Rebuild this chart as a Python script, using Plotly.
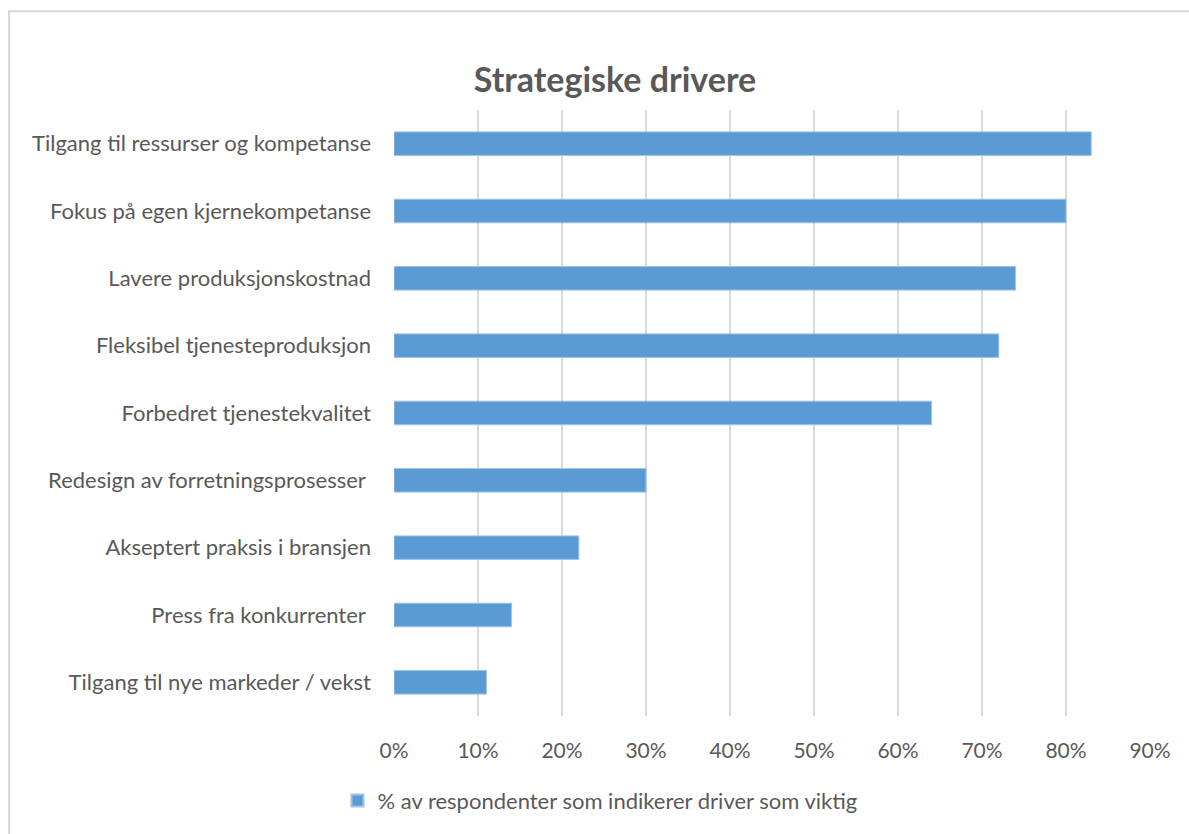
import plotly.graph_objects as go

# Strategic drivers, listed top to bottom
categories = [
    "Tilgang til ressurser og kompetanse",
    "Fokus på egen kjernekompetanse",
    "Lavere produksjonskostnad",
    "Fleksibel tjenesteproduksjon",
    "Forbedret tjenestekvalitet",
    "Redesign av forretningsprosesser\u00a0",
    "Akseptert praksis i bransjen",
    "Press fra konkurrenter\u00a0",
    "Tilgang til nye markeder / vekst",
]
share = [0.83, 0.80, 0.74, 0.72, 0.64, 0.30, 0.22, 0.14, 0.11]
series_name = "% av respondenter som indikerer driver som viktig"
tick_vals = [0, 0.1, 0.2, 0.3, 0.4, 0.5, 0.6, 0.7, 0.8, 0.9]
tick_text = ["0%", "10%", "20%", "30%", "40%", "50%", "60%", "70%", "80%", "90%"]

W, H = 1189, 834
ml, mr, mt, mb = 394, 39, 110, 116
pw, ph = W - ml - mr, H - mt - mb

TXT = "#595959"
FONT = "Lato"

fig = go.Figure(
    go.Bar(
        x=share,
        y=categories,
        orientation="h",
        name=series_name,
        marker=dict(color="#5B9BD5", line=dict(color="#9DC3E6", width=1)),
        showlegend=True,
    )
)


def px_x(p):
    return (p - ml) / pw


def px_y(p):
    return (H - mb - p) / ph


fig.update_layout(
    width=W,
    height=H,
    margin=dict(l=ml, r=mr, t=mt, b=mb),
    paper_bgcolor="white",
    plot_bgcolor="white",
    font=dict(family=FONT, color=TXT, size=22),
    bargap=0.65,
    title=dict(
        text="<b>Strategiske drivere</b>",
        x=615 / W,
        xanchor="center",
        y=1 - 80 / H,
        yanchor="middle",
        font=dict(family=FONT, size=34, color=TXT),
    ),
    xaxis=dict(
        range=[0, 0.9],
        tickvals=tick_vals,
        ticktext=tick_text,
        showgrid=True,
        gridcolor="#D9D9D9",
        gridwidth=2,
        zeroline=False,
        showline=False,
        ticks="",
        ticklabelstandoff=20,
        tickfont=dict(size=21, color=TXT),
        fixedrange=True,
    ),
    yaxis=dict(
        categoryorder="array",
        categoryarray=categories[::-1],
        showgrid=False,
        zeroline=False,
        showline=False,
        ticks="",
        ticklabelstandoff=22,
        tickfont=dict(size=22, color=TXT),
        fixedrange=True,
    ),
    legend=dict(
        orientation="h",
        x=px_x(600),
        xanchor="center",
        y=px_y(803),
        yanchor="middle",
        font=dict(size=22, color=TXT),
        itemsizing="constant",
    ),
    shapes=[
        dict(
            type="rect",
            xref="paper",
            yref="paper",
            x0=px_x(9),
            x1=px_x(W + 20),
            y0=px_y(H + 20),
            y1=px_y(11),
            line=dict(color="#D9D9D9", width=2),
            fillcolor="rgba(0,0,0,0)",
            layer="below",
        )
    ],
)

fig.write_html("out.html")
